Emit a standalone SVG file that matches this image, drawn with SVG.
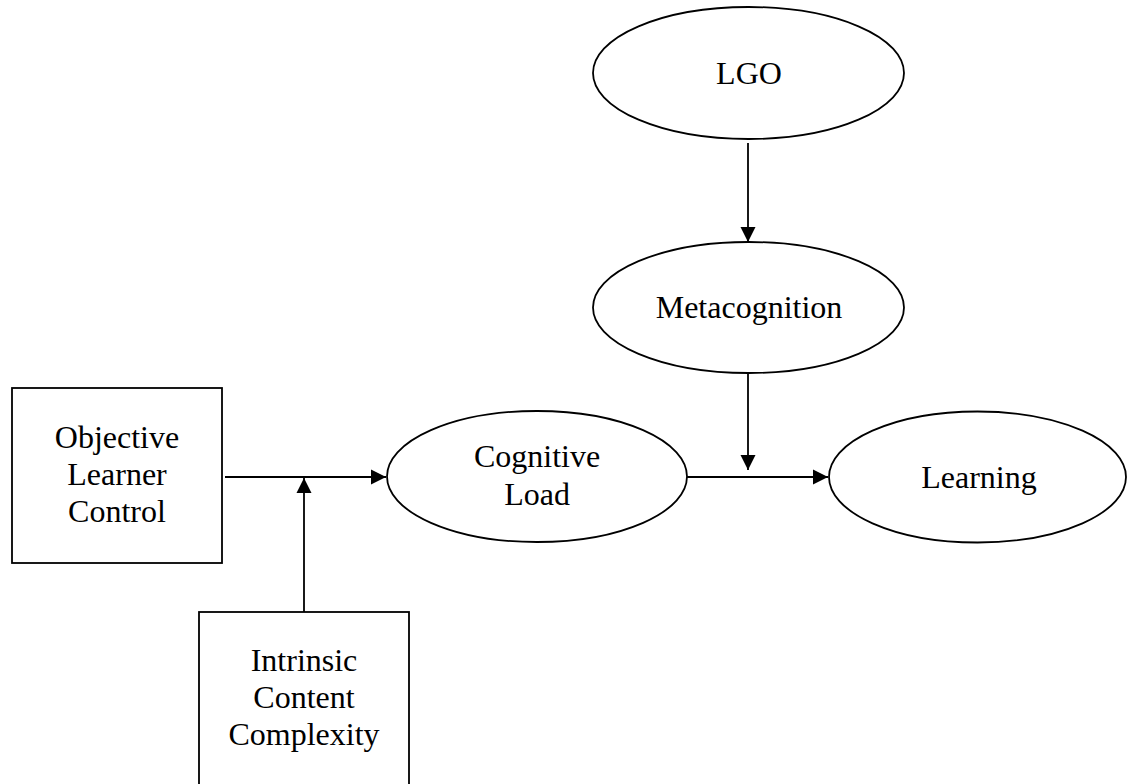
<svg xmlns="http://www.w3.org/2000/svg" width="1127" height="784" viewBox="0 0 1127 784">
<style>
.n{fill:#fff;stroke:#000;stroke-width:1.8}
.t{font-family:"Liberation Serif","Times New Roman",serif;font-size:32px;fill:#000;text-anchor:middle}
.c{stroke:#000;stroke-width:1.8;fill:none}
</style>
<defs>
<marker id="ah" markerUnits="userSpaceOnUse" markerWidth="16" markerHeight="16" viewBox="0 0 16 16" refX="15" refY="8" orient="auto">
<path d="M0,0.5 L15,8 L0,15.5 Z" fill="#000"/>
</marker>
</defs>
<rect width="1127" height="784" fill="#fff"/>
<g id="lgo">
<ellipse class="n" cx="748.5" cy="73" rx="155.5" ry="66"/>
<text class="t" x="749" y="84">LGO</text>
</g>
<g id="metacognition">
<ellipse class="n" cx="748.5" cy="307.5" rx="155.5" ry="65.5"/>
<text class="t" x="749" y="318">Metacognition</text>
</g>
<g id="cognitive-load">
<ellipse class="n" cx="537" cy="476.5" rx="150" ry="65.5"/>
<text class="t" x="537" y="467">Cognitive</text>
<text class="t" x="537" y="505">Load</text>
</g>
<g id="learning">
<ellipse class="n" cx="977.5" cy="477" rx="148.5" ry="65.5"/>
<text class="t" x="979" y="488">Learning</text>
</g>
<g id="objective-learner-control">
<rect class="n" x="12" y="388" width="210" height="175"/>
<text class="t" x="117" y="448">Objective</text>
<text class="t" x="117" y="485">Learner</text>
<text class="t" x="117" y="522">Control</text>
</g>
<g id="intrinsic-content-complexity">
<rect class="n" x="199" y="612" width="210" height="190"/>
<text class="t" x="304" y="671">Intrinsic</text>
<text class="t" x="304" y="708">Content</text>
<text class="t" x="304" y="745">Complexity</text>
</g>
<g id="connectors">
<line class="c" x1="748" y1="143" x2="748" y2="242" marker-end="url(#ah)"/>
<line class="c" x1="748" y1="373" x2="748" y2="470" marker-end="url(#ah)"/>
<line class="c" x1="225" y1="477" x2="386" y2="477" marker-end="url(#ah)"/>
<line class="c" x1="304" y1="612" x2="304" y2="478" marker-end="url(#ah)"/>
<line class="c" x1="687" y1="477" x2="828" y2="477" marker-end="url(#ah)"/>
</g>
</svg>
